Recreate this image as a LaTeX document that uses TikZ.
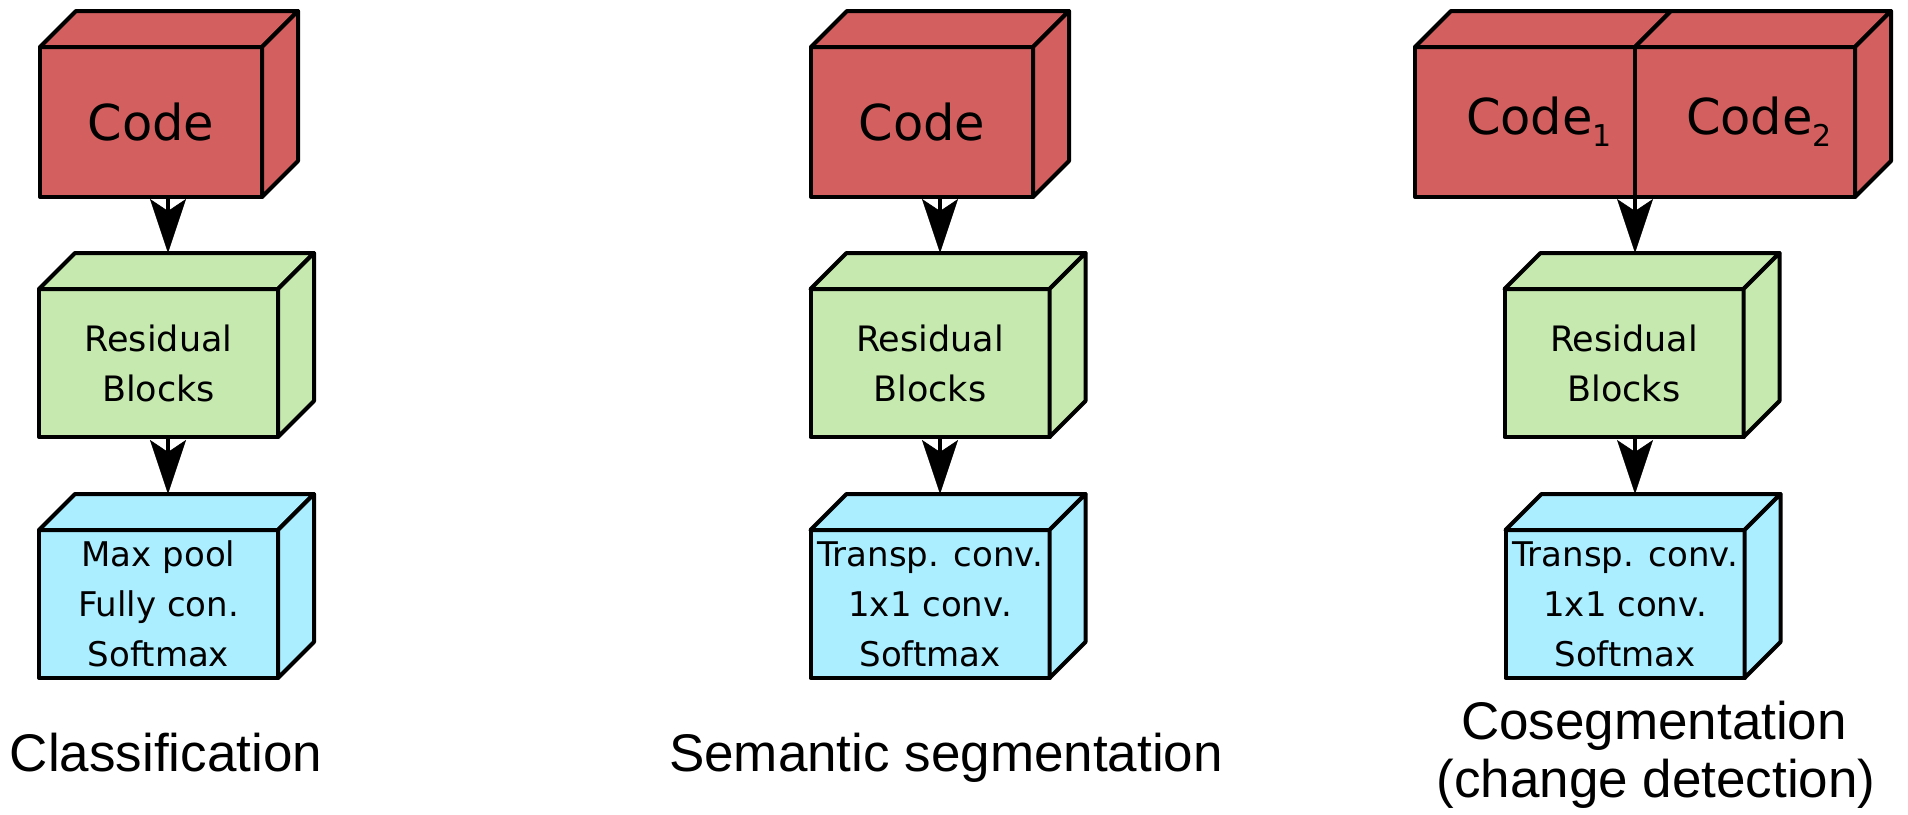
\documentclass[tikz,border=0pt]{standalone}
\usepackage{fontspec}
\setmainfont{DejaVu Sans}
\newfontfamily\captionfont{Liberation Sans}
\usetikzlibrary{arrows.meta}

\definecolor{codered}{HTML}{D35F5F}
\definecolor{resgreen}{HTML}{C6E9AF}
\definecolor{headblue}{HTML}{AAEEFF}

\newcommand\codesize{\fontsize{49.5}{58}\selectfont}
\newcommand\subsize{\fontsize{30}{30}\selectfont}
\newcommand\ressize{\fontsize{35}{50}\selectfont}
\newcommand\boxsize{\fontsize{34}{50}\selectfont}
\newcommand\capsize{\fontsize{53}{59}\selectfont}
\newcommand\sub[1]{\raisebox{-12pt}{\subsize #1}}

% top and right faces of a box whose front face is node #1
\newcommand\topface[2]{\draw[facestyle, fill=#2] (#1.north west) -- ++(36,-36) -- ([shift={(36,-36)}]#1.north east) -- (#1.north east) -- cycle;}
\newcommand\sideface[2]{\draw[facestyle, fill=#2] (#1.north east) -- ++(36,-36) -- ([shift={(36,-36)}]#1.south east) -- (#1.south east) -- cycle;}

\tikzset{
  facestyle/.style={line width=4pt, line join=round, draw=black},
  front/.style={rectangle, draw=black, line width=4pt, line join=round, inner sep=0pt, outer sep=0pt, align=center},
  codebox/.style={front, fill=codered, minimum height=150, font=\codesize},
  resbox/.style={front, fill=resgreen, minimum width=239, minimum height=148, font=\ressize},
  headbox/.style={front, fill=headblue, minimum width=239, minimum height=148, font=\boxsize},
  flow/.style={line width=4pt, -{Stealth[length=54pt, width=36pt, inset=12pt, line width=0.5pt]}},
  caplabel/.style={font=\captionfont\capsize, inner sep=0pt, anchor=base},
}

\begin{document}
\begin{tikzpicture}[x=1pt, y=-1pt]
\useasboundingbox (0,0) rectangle (1908,814);

% ---------- Classification ----------
\node[codebox, minimum width=222] (code1) at (151,122) {Code};
\topface{code1}{codered}\sideface{code1}{codered}
\node[resbox] (res1) at (158.5,363) {Residual\\Blocks};
\topface{res1}{resgreen}\sideface{res1}{resgreen}
\node[headbox] (head1) at (158.5,604) {Max pool\\Fully con.\\Softmax};
\topface{head1}{headblue}\sideface{head1}{headblue}
\coordinate (a1) at (168,0);
\coordinate (res1back) at ([shift={(0,-36)}]res1.north);
\coordinate (head1back) at ([shift={(0,-36)}]head1.north);
\draw[flow] (code1.south -| a1) -- (res1back -| a1);
\draw[flow] (res1.south -| a1) -- (head1back -| a1);
\node[caplabel] (lab1) at (166,771) {Classification};

% ---------- Semantic segmentation ----------
\node[codebox, minimum width=222] (code2) at (922,122) {Code};
\topface{code2}{codered}\sideface{code2}{codered}
\node[resbox] (res2) at (930,363) {Residual\\Blocks};
\topface{res2}{resgreen}\sideface{res2}{resgreen}
\node[headbox] (head2) at (930,604) {Transp. conv.\\1x1 conv.\\Softmax};
\topface{head2}{headblue}\sideface{head2}{headblue}
\coordinate (a2) at (940,0);
\coordinate (res2back) at ([shift={(0,-36)}]res2.north);
\coordinate (head2back) at ([shift={(0,-36)}]head2.north);
\draw[flow] (code2.south -| a2) -- (res2back -| a2);
\draw[flow] (res2.south -| a2) -- (head2back -| a2);
\node[caplabel] (lab2) at (946,771) {Semantic segmentation};

% ---------- Cosegmentation ----------
\node[codebox, minimum width=220] (code3a) at (1525,122) {\hspace{28pt}Code\sub{1}};
\node[codebox, minimum width=220] (code3b) at (1745,122) {\hspace{28pt}Code\sub{2}};
\topface{code3a}{codered}
\topface{code3b}{codered}\sideface{code3b}{codered}
\node[resbox] (res3) at (1624,363) {Residual\\Blocks};
\topface{res3}{resgreen}\sideface{res3}{resgreen}
\node[headbox] (head3) at (1625,604) {Transp. conv.\\1x1 conv.\\Softmax};
\topface{head3}{headblue}\sideface{head3}{headblue}
\coordinate (a3) at (1635,0);
\coordinate (res3back) at ([shift={(0,-36)}]res3.north);
\coordinate (head3back) at ([shift={(0,-36)}]head3.north);
\draw[flow] (code3a.south east -| a3) -- (res3back -| a3);
\draw[flow] (res3.south -| a3) -- (head3back -| a3);
\node[caplabel] (lab3a) at (1654,739) {Cosegmentation};
\node[caplabel] (lab3b) at (1656,797) {(change detection)};
\end{tikzpicture}
\end{document}
